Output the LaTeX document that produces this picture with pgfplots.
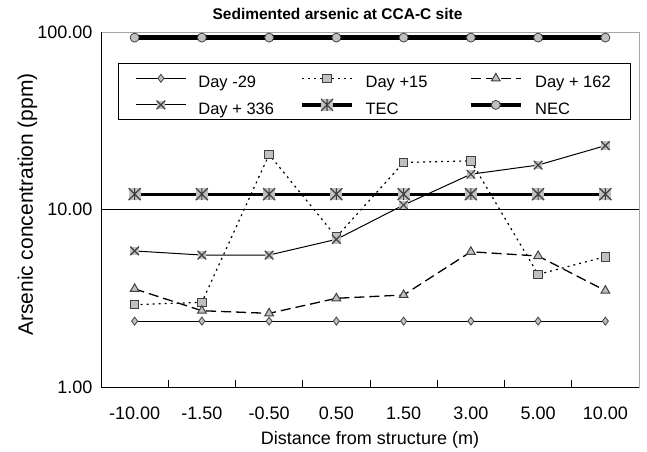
\documentclass[border=0pt]{standalone}
\usepackage{fontspec}
\setmainfont{Liberation Sans}
\usepackage{pgfplots}
\pgfplotsset{compat=1.18}
\definecolor{silv}{HTML}{C0C0C0}
\definecolor{mkd}{HTML}{404040}
\newcommand{\lgent}[2]{\fontsize{16.5}{19}\selectfont\rule[-5.6pt]{0pt}{25.3pt}\makebox[#1][l]{#2}}
\pgfdeclareplotmark{xbox}{%
  \pgfpathrectangle{\pgfqpoint{-\pgfplotmarksize}{-\pgfplotmarksize}}{\pgfqpoint{2\pgfplotmarksize}{2\pgfplotmarksize}}%
  \pgfusepathqfill
  \pgfpathmoveto{\pgfqpoint{-\pgfplotmarksize}{-\pgfplotmarksize}}%
  \pgfpathlineto{\pgfqpoint{\pgfplotmarksize}{\pgfplotmarksize}}%
  \pgfpathmoveto{\pgfqpoint{-\pgfplotmarksize}{\pgfplotmarksize}}%
  \pgfpathlineto{\pgfqpoint{\pgfplotmarksize}{-\pgfplotmarksize}}%
  \pgfusepathqstroke}
\pgfdeclareplotmark{starbox}{%
  \pgfpathrectangle{\pgfqpoint{-\pgfplotmarksize}{-\pgfplotmarksize}}{\pgfqpoint{2\pgfplotmarksize}{2\pgfplotmarksize}}%
  \pgfusepathqfill
  \pgfpathmoveto{\pgfqpoint{-\pgfplotmarksize}{-\pgfplotmarksize}}%
  \pgfpathlineto{\pgfqpoint{\pgfplotmarksize}{\pgfplotmarksize}}%
  \pgfpathmoveto{\pgfqpoint{-\pgfplotmarksize}{\pgfplotmarksize}}%
  \pgfpathlineto{\pgfqpoint{\pgfplotmarksize}{-\pgfplotmarksize}}%
  \pgfpathmoveto{\pgfqpoint{0pt}{-\pgfplotmarksize}}%
  \pgfpathlineto{\pgfqpoint{0pt}{\pgfplotmarksize}}%
  \pgfusepathqstroke}
\begin{document}
\begin{tikzpicture}
\begin{axis}[
  scale only axis, width=538pt, height=355pt,
  ymode=log, ymin=1, ymax=100,
  xmin=-0.5, xmax=7.5,
  clip=false,
  xtick={0,1,2,3,4,5,6,7},
  xticklabels={-10.00,-1.50,-0.50,0.50,1.50,3.00,5.00,10.00},
  ytick={1,10,100}, yticklabels={1.00,10.00,100.00},
  yminorticks=false,
  minor xtick={0.5,1.5,2.5,3.5,4.5,5.5,6.5},
  major tick length=0pt, minor tick length=7pt,
  tick align=inside, xtick pos=bottom, ytick pos=left,
  minor tick style={black, line width=0.8pt},
  extra y ticks={10}, extra y tick labels={},
  extra y tick style={grid=major, major grid style={black, line width=0.8pt}},
  axis line style={draw=gray!70, line width=0.8pt},
  tick label style={font=\fontsize{18}{21}\selectfont},
  xticklabel style={yshift=-16pt},
  yticklabel style={xshift=-5pt},
  title={Sedimented arsenic at CCA-C site},
  title style={at={(axis description cs:0.4396,1)}, anchor=base, yshift=6pt, font=\bfseries\fontsize{15.5}{18}\selectfont},
  legend columns=3,
  legend cell align=left,
  legend image code/.code={\draw[mark repeat=2,mark phase=2,#1] plot coordinates {(0pt,0pt) (25pt,0pt) (50pt,0pt)};},
  legend style={at={(axis description cs:0.0316,0.9118)}, anchor=north west, draw=black, line width=0.8pt,
    font=\fontsize{16.5}{19}\selectfont, inner xsep=17pt, inner ysep=2pt, row sep=1.4pt,
    /tikz/every odd column/.append style={column sep=10pt}},
]
\draw[black, line width=1pt] (rel axis cs:0,1) -- (rel axis cs:0,0) -- (rel axis cs:1,0);
\node[rotate=90, anchor=base, font=\fontsize{21}{24}\selectfont] at ([xshift=-68pt]axis description cs:0,0.514) {Arsenic concentration (ppm)};
\node[anchor=base, font=\fontsize{18}{21}\selectfont] at ([yshift=-57pt]axis description cs:0.5,0) {Distance from structure (m)};
% Day -29
\addplot[black, line width=0.8pt, mark=diamond*, mark size=4pt, mark options={solid, fill=silv, draw=mkd, line width=0.8pt}]
  coordinates {(0,2.35) (1,2.35) (2,2.35) (3,2.35) (4,2.35) (5,2.35) (6,2.35) (7,2.35)};
\addlegendentry{\lgent{100pt}{Day -29}}
% Day +15
\addplot[black, line width=1.2pt, dash pattern=on 2pt off 4pt, mark=square*, mark size=4.3pt, mark options={solid, fill=silv, draw=mkd, line width=1pt}]
  coordinates {(0,2.91) (1,3.0) (2,20.4) (3,7.0) (4,18.4) (5,18.8) (6,4.31) (7,5.42)};
\addlegendentry{\lgent{101pt}{Day +15}}
% Day +162
\addplot[black, line width=1.3pt, dash pattern=on 10pt off 5pt, mark=triangle*, mark size=5pt, mark options={solid, fill=silv, draw=mkd, line width=1pt}]
  coordinates {(0,3.57) (1,2.69) (2,2.60) (3,3.16) (4,3.30) (5,5.78) (6,5.47) (7,3.49)};
\addlegendentry{\lgent{76pt}{Day + 162}}
% Day +336
\addplot[black, line width=1pt, mark=xbox, mark size=4.3pt, mark options={solid, fill=silv, draw=mkd, line width=1.2pt}]
  coordinates {(0,5.84) (1,5.54) (2,5.54) (3,6.79) (4,10.6) (5,15.8) (6,17.8) (7,22.9)};
\addlegendentry{\lgent{100pt}{Day + 336}}
% TEC
\addplot[black, line width=3.2pt, mark=starbox, mark size=6pt, mark options={solid, fill=silv, draw=mkd, line width=1.2pt}]
  coordinates {(0,12.2) (1,12.2) (2,12.2) (3,12.2) (4,12.2) (5,12.2) (6,12.2) (7,12.2)};
\addlegendentry{\lgent{101pt}{TEC}}
% NEC
\addplot[black, line width=4.5pt, mark=*, mark size=4.5pt, mark options={solid, fill=silv, draw=mkd, line width=0.8pt}]
  coordinates {(0,93) (1,93) (2,93) (3,93) (4,93) (5,93) (6,93) (7,93)};
\addlegendentry{\lgent{76pt}{NEC}}
\end{axis}
\path ([xshift=-101pt,yshift=-62pt]current axis.south west) rectangle ([xshift=8pt,yshift=32pt]current axis.north east);
\end{tikzpicture}
\end{document}
